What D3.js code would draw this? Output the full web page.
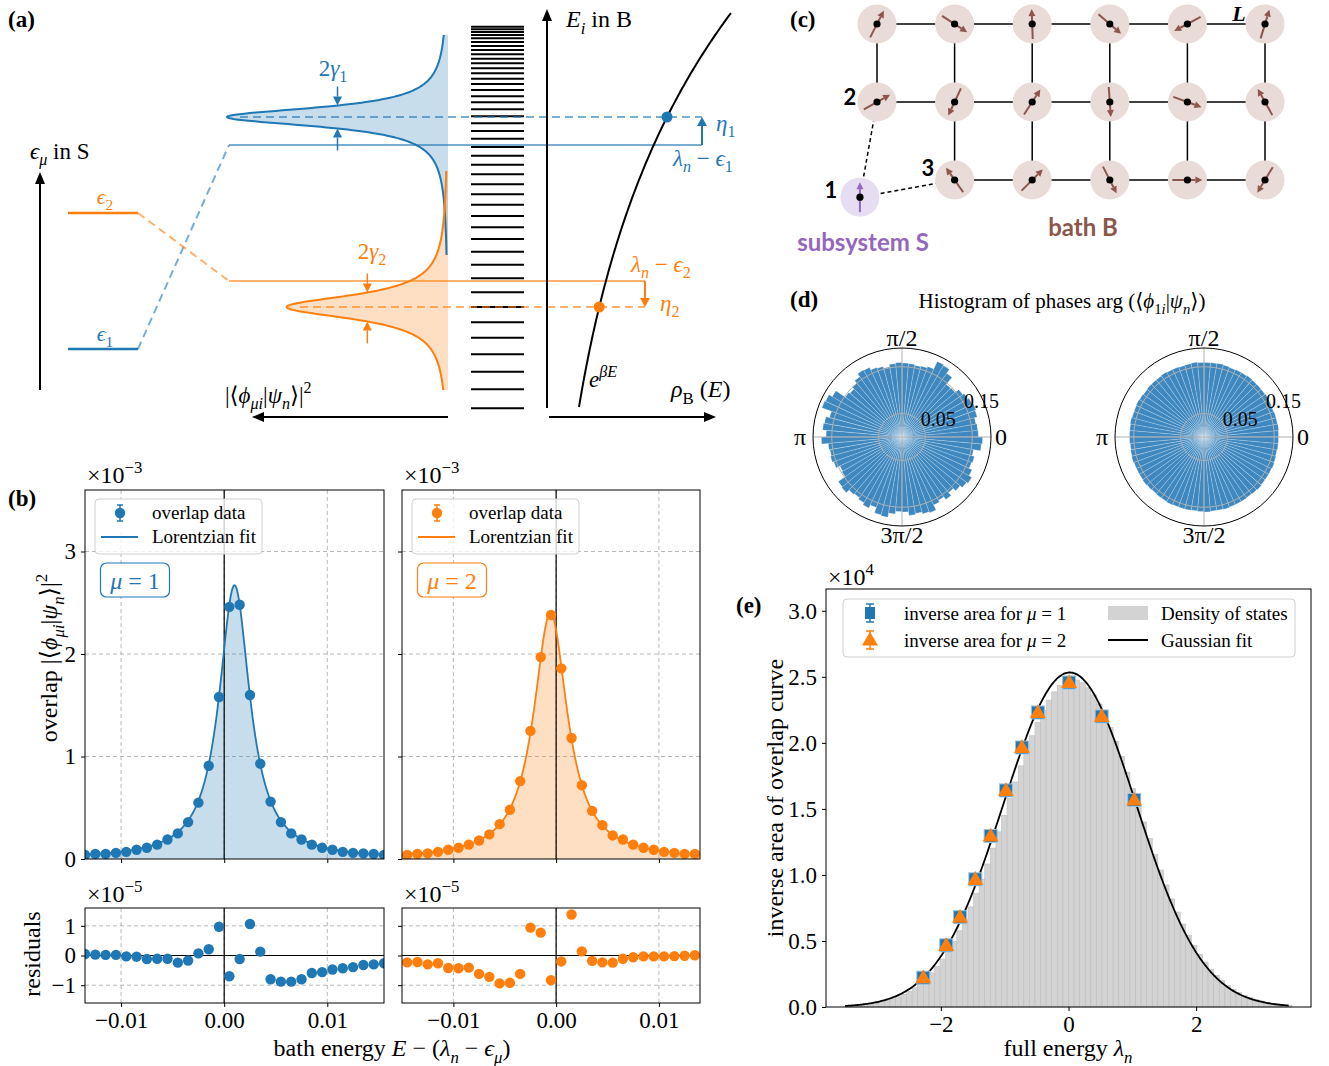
<!DOCTYPE html>
<html>
<head>
<meta charset="utf-8">
<script src="https://cdn.jsdelivr.net/npm/d3@7"></script>
<style>body{margin:0;background:#fff}</style>
</head>
<body>
<svg id="fig" width="1329" height="1066"></svg>
<script>
// ---------- data ----------
// (b) overlap data, mu = 1 and mu = 2 (units of 1e-3)
const energyMu1 = [-0.0135,-0.0125,-0.0115,-0.0105,-0.0095,-0.0085,-0.0075,-0.0065,-0.0055,-0.0045,-0.0035,-0.0025,-0.0015,-0.0005,0.0005,0.0015,0.0025,0.0035,0.0045,0.0055,0.0065,0.0075,0.0085,0.0095,0.0105,0.0115,0.0125,0.0135,0.0145,0.0155];
const overlapMu1 = [0.04,0.05,0.05,0.06,0.07,0.09,0.11,0.14,0.19,0.25,0.36,0.55,0.91,1.58,2.46,2.48,1.60,0.93,0.56,0.36,0.25,0.19,0.14,0.11,0.09,0.07,0.06,0.055,0.05,0.04];
const residMu1 = [0.05,0.03,0.02,0.02,-0.03,-0.04,-0.12,-0.11,-0.11,-0.24,-0.17,0.07,0.21,0.97,-0.70,-0.12,1.06,0.13,-0.80,-0.88,-0.88,-0.80,-0.59,-0.56,-0.47,-0.43,-0.39,-0.32,-0.30,-0.26];
const energyMu2 = [-0.0145,-0.0135,-0.0125,-0.0115,-0.0105,-0.0095,-0.0085,-0.0075,-0.0065,-0.0055,-0.0045,-0.0035,-0.0025,-0.0015,-0.0005,0.0005,0.0015,0.0025,0.0035,0.0045,0.0055,0.0065,0.0075,0.0085,0.0095,0.0105,0.0115,0.0125,0.0135];
const overlapMu2 = [0.04,0.05,0.055,0.07,0.09,0.11,0.14,0.18,0.24,0.34,0.48,0.76,1.25,1.97,2.38,1.86,1.18,0.72,0.47,0.33,0.23,0.19,0.14,0.11,0.09,0.07,0.06,0.05,0.05];
const residMu2 = [-0.23,-0.22,-0.30,-0.26,-0.42,-0.43,-0.41,-0.62,-0.72,-0.94,-0.92,-0.62,0.94,0.77,-0.83,-0.20,1.38,0.14,-0.18,-0.23,-0.24,-0.11,-0.06,-0.03,-0.03,-0.03,-0.02,-0.01,0.01];
// Lorentzian fit parameters: [amplitude, centre, half width]
const fitMu1 = [2.67, 0.0010, 0.00182];
const fitMu2 = [2.40, -0.00055, 0.0020];
const bathTicks = [-0.01, 0, 0.01];

// (e) inverse area vs full energy (units of 1e4)
const fullEnergy = [-2.275,-1.916,-1.70,-1.46,-1.22,-0.98,-0.73,-0.48,0.01,0.52,1.03];
const invAreaMu1 = [0.222,0.467,0.68,0.967,1.295,1.64,1.965,2.23,2.457,2.20,1.568];
const invAreaMu2 = [0.222,0.467,0.68,0.967,1.295,1.64,1.965,2.23,2.457,2.20,1.568];
const dosRange = [-3.5, 3.5];
const dosHeights = [0.008,0.011,0.014,0.018,0.023,0.030,0.039,0.049,0.062,0.077,
  0.096,0.119,0.146,0.177,0.214,0.258,0.307,0.363,0.427,0.498,
  0.577,0.663,0.758,0.859,0.968,1.083,1.203,1.326,1.452,1.578,
  1.704,1.826,1.944,2.054,2.155,2.245,2.323,2.386,2.434,2.465,
  2.479,2.476,2.455,2.417,2.363,2.294,2.211,2.116,2.011,1.897,
  1.778,1.654,1.528,1.401,1.276,1.154,1.037,0.924,0.818,0.719,
  0.628,0.544,0.468,0.400,0.340,0.286,0.240,0.199,0.164,0.134,
  0.109,0.088,0.071,0.056,0.045,0.035,0.027,0.021,0.016,0.012];
const gaussFit = [2.533, 0.02, 1.04];   // amplitude, mean, sigma
const gaussSpan = [-3.5, 3.45];

// (d) phase histograms (density per 5 degree bin, counter-clockwise from 0)
const phaseLeft = [0.163,0.162,0.160,0.166,0.168,0.165,0.162,0.158,0.148,0.147,0.166,0.176,
  0.178,0.160,0.157,0.155,0.157,0.158,0.159,0.157,0.152,0.156,0.158,0.164,
  0.165,0.157,0.150,0.145,0.148,0.172,0.180,0.182,0.160,0.168,0.170,0.162,
  0.172,0.158,0.156,0.158,0.155,0.146,0.148,0.166,0.168,0.160,0.158,0.162,
  0.167,0.160,0.172,0.174,0.165,0.159,0.160,0.168,0.166,0.170,0.172,0.160,
  0.156,0.163,0.155,0.162,0.168,0.172,0.165,0.158,0.160,0.155,0.170,0.172];
const phaseRight = [0.159,0.160,0.159,0.159,0.158,0.159,0.160,0.159,0.159,0.159,0.160,0.159,
  0.159,0.158,0.159,0.160,0.159,0.159,0.159,0.160,0.159,0.158,0.159,0.159,
  0.160,0.159,0.159,0.159,0.158,0.159,0.160,0.159,0.159,0.160,0.159,0.159,
  0.159,0.158,0.159,0.160,0.159,0.159,0.159,0.160,0.159,0.158,0.159,0.159,
  0.160,0.159,0.159,0.159,0.158,0.159,0.160,0.159,0.159,0.160,0.159,0.159,
  0.159,0.158,0.159,0.160,0.159,0.159,0.159,0.160,0.159,0.158,0.159,0.159];
const phaseTicks = [0.05, 0.15];

// (a) schematic energies
const sysLevels = [61, 197];        // eps_1, eps_2
const shiftedLevels = [265, 129];   // lambda_n - eps_mu
const peakLevels = [293, 103];      // lambda_n - eps_mu + eta_mu
const lorentzPeak = [1.0, 0.73];
const lorentzWidth = [11.5, 14.5];
const lorentzSpan = [[155, 375], [20, 239]];
const bathLevels = [1.7,20.7,38.3,55.7,72.3,87.7,103,117.7,131.7,145.3,158.3,171,182.7,194,205.3,215.7,225.7,235.7,245.3,254.3,263,271.3,279,286.7,293.7,300.7,307.7,313.7,320,326,331.3,336.7,341.7,346.7,351.3,355.7,360,364,368,371.7,375,378,380.7,383.3];
const rhoParams = [-11.8, 43.3, 0.0038]; // offset, prefactor, beta

// (c) lattice spins, angle in degrees (null = no site)
const spinAngles = [
  [63, -33, 92, -41, 208, 73],
  [29, 245, 57, -86, -20, 119],
  [null, 125, 45, -63, 0, 239]
];
const subSpin = 90;

// ---------- helpers ----------
const BLUE = "#1f77b4", ORANGE = "#ff7f0e", BROWN = "#8c564b", PURPLE = "#9467bd";
const SERIF = "'Liberation Serif','DejaVu Serif',serif";
const SANS = "Lato,'DejaVu Sans',sans-serif";
const TICK = 23;
const svg = d3.select("#fig");

function rich(g, x, y, segs, o) {
  const size = o.size || 20;
  const t = g.append("text").attr("x", x).attr("y", y)
    .attr("font-family", o.family || SERIF).attr("font-size", size)
    .attr("fill", o.color || "#000").attr("text-anchor", o.anchor || "start");
  if (o.weight) t.attr("font-weight", o.weight);
  if (o.rotate) t.attr("transform", `rotate(${o.rotate},${x},${y})`);
  let cur = 0;
  segs.forEach(s => {
    const txt = typeof s === "string" ? s : s[0];
    const f = typeof s === "string" ? "" : (s[1] || "");
    let off = 0, fs = size;
    if (f.includes("_")) { off = size * 0.28; fs = size * 0.7; }
    if (f.includes("^")) { off = -size * 0.42; fs = size * 0.7; }
    const ts = t.append("tspan").text(txt).attr("dy", off - cur);
    cur = off;
    if (fs !== size) ts.attr("font-size", fs);
    if (f.includes("i")) ts.attr("font-style", "italic");
  });
  return t;
}

function arrow(g, x1, y1, x2, y2, color, w, hl, hw, op) {
  op = op === undefined ? 1 : op;
  const a = Math.atan2(y2 - y1, x2 - x1);
  const bx = x2 - hl * Math.cos(a), by = y2 - hl * Math.sin(a);
  g.append("line").attr("x1", x1).attr("y1", y1).attr("x2", bx).attr("y2", by)
    .attr("stroke", color).attr("stroke-width", w).attr("stroke-opacity", op);
  const px = -Math.sin(a) * hw, py = Math.cos(a) * hw;
  g.append("path").attr("d", `M${x2},${y2}L${bx + px},${by + py}L${bx - px},${by - py}Z`)
    .attr("fill", color).attr("fill-opacity", op);
}

function styleAxis(a, size) {
  a.select(".domain").remove();
  a.selectAll("line").attr("stroke", "#000");
  a.selectAll("text").attr("font-family", SERIF).attr("font-size", size || TICK).attr("fill", "#000");
}

function panelLabel(x, y, s) {
  svg.append("text").attr("x", x).attr("y", y).attr("font-family", SERIF)
    .attr("font-weight", "bold").attr("font-size", 23).text(s);
}

// ---------- (a) schematic ----------
const aE = d3.scaleLinear().domain([0, 400]).range([410, 10]);
const ovX = d3.scaleLinear().domain([0, 1]).range([448, 227]);
const rhoX = d3.scaleLinear().domain([0, 200]).range([547, 747]);
const rho = E => rhoParams[0] + rhoParams[1] * Math.exp(rhoParams[2] * E);
const ga = svg.append("g");
const cols = [BLUE, ORANGE];

[0, 1].forEach(k => {
  const Es = d3.range(0, 401).map(i => lorentzSpan[k][0] + (lorentzSpan[k][1] - lorentzSpan[k][0]) * i / 400);
  const lx = E => ovX(lorentzPeak[k] / (1 + ((E - peakLevels[k]) / lorentzWidth[k]) ** 2));
  ga.append("path").datum(Es)
    .attr("d", d3.area().y(E => aE(E)).x0(ovX(0)).x1(lx))
    .attr("fill", cols[k]).attr("fill-opacity", 0.25);
});
[0, 1].forEach(k => {
  const Es = d3.range(0, 401).map(i => lorentzSpan[k][0] + (lorentzSpan[k][1] - lorentzSpan[k][0]) * i / 400);
  const lx = E => ovX(lorentzPeak[k] / (1 + ((E - peakLevels[k]) / lorentzWidth[k]) ** 2));
  ga.append("path").datum(Es).attr("d", d3.line().y(E => aE(E)).x(lx))
    .attr("fill", "none").attr("stroke", cols[k]).attr("stroke-width", 2);
});

// bath energy levels
ga.selectAll("line.lev").data(bathLevels).join("line")
  .attr("x1", 471).attr("x2", 524).attr("y1", d => aE(d)).attr("y2", d => aE(d))
  .attr("stroke", "#000").attr("stroke-width", 2);

// system levels, dashed connectors and shifted lines
const rightEnd = [702, 645];
const peakStart = [240, 300];
[0, 1].forEach(k => {
  const c = cols[k];
  ga.append("line").attr("x1", 68).attr("x2", 138).attr("y1", aE(sysLevels[k])).attr("y2", aE(sysLevels[k]))
    .attr("stroke", c).attr("stroke-width", 2.5);
  ga.append("line").attr("x1", 138).attr("x2", 229).attr("y1", aE(sysLevels[k])).attr("y2", aE(shiftedLevels[k]))
    .attr("stroke", c).attr("stroke-opacity", 0.6).attr("stroke-width", 2).attr("stroke-dasharray", "8,5");
  ga.append("line").attr("x1", 229).attr("x2", rightEnd[k]).attr("y1", aE(shiftedLevels[k])).attr("y2", aE(shiftedLevels[k]))
    .attr("stroke", c).attr("stroke-opacity", 0.6).attr("stroke-width", 2);
  ga.append("line").attr("x1", peakStart[k]).attr("x2", rightEnd[k]).attr("y1", aE(peakLevels[k])).attr("y2", aE(peakLevels[k]))
    .attr("stroke", c).attr("stroke-opacity", 0.6).attr("stroke-width", 2).attr("stroke-dasharray", "8,5");
  arrow(ga, rightEnd[k], aE(shiftedLevels[k]), rightEnd[k], aE(peakLevels[k]), c, 2, 9, 5);
  // width arrows
  const hx = ovX(lorentzPeak[k] / 2);
  const up = peakLevels[k] + lorentzWidth[k], dn = peakLevels[k] - lorentzWidth[k];
  arrow(ga, hx, aE(up + 19), hx, aE(up), c, 1.5, 9, 4.5);
  arrow(ga, hx, aE(dn - 22), hx, aE(dn), c, 1.5, 9, 4.5);
});

// density of states curve
const rhoEs = d3.range(0, 201).map(i => 3 + 394 * i / 200);
ga.append("path").datum(rhoEs).attr("d", d3.line().y(E => aE(E)).x(E => rhoX(rho(E))))
  .attr("fill", "none").attr("stroke", "#000").attr("stroke-width", 2);
ga.selectAll("circle.pk").data(peakLevels).join("circle")
  .attr("cx", E => rhoX(rho(E))).attr("cy", E => aE(E)).attr("r", 5.5)
  .attr("fill", (d, i) => cols[i]);

// axes arrows
arrow(ga, 40, 390, 40, 172, "#000", 2, 12, 5);
arrow(ga, 547, 408, 547, 9, "#000", 2, 12, 5);
arrow(ga, 549, 417, 716, 417, "#000", 2, 12, 5);
arrow(ga, 448, 417, 252, 417, "#000", 2, 12, 5);

// labels (a)
rich(ga, 30, 159, [["ϵ", "i"], ["μ", "_i"], " in S"], { size: 23 });
rich(ga, 105, 204, [["ϵ", "i"], ["2", "_"]], { size: 22, color: ORANGE, anchor: "middle" });
rich(ga, 105, 341, [["ϵ", "i"], ["1", "_"]], { size: 22, color: BLUE, anchor: "middle" });
rich(ga, 333, 76, ["2", ["γ", "i"], ["1", "_"]], { size: 23, color: BLUE, anchor: "middle" });
rich(ga, 372, 259, ["2", ["γ", "i"], ["2", "_"]], { size: 23, color: ORANGE, anchor: "middle" });
rich(ga, 225, 403, ["|⟨", ["ϕ", "i"], ["μi", "_i"], "|", ["ψ", "i"], ["n", "_i"], "⟩|", ["2", "^"]], { size: 23 });
rich(ga, 566, 27, [["E", "i"], ["i", "_i"], " in B"], { size: 24 });
rich(ga, 716, 131, [["η", "i"], ["1", "_"]], { size: 23, color: BLUE });
rich(ga, 673, 166, [["λ", "i"], ["n", "_i"], " − ", ["ϵ", "i"], ["1", "_"]], { size: 23, color: BLUE });
rich(ga, 631, 272, [["λ", "i"], ["n", "_i"], " − ", ["ϵ", "i"], ["2", "_"]], { size: 23, color: ORANGE });
rich(ga, 660, 311, [["η", "i"], ["2", "_"]], { size: 23, color: ORANGE });
rich(ga, 589, 387, [["e", "i"], ["βE", "^i"]], { size: 23 });
rich(ga, 671, 397, [["ρ", "i"], ["B", "_"], " (", ["E", "i"], ")"], { size: 24 });
panelLabel(8, 27, "(a)");

// ---------- (b) overlap panels ----------
const yOv = d3.scaleLinear().domain([0, 3.6]).range([859, 490]);
const yRes = d3.scaleLinear().domain([-1.6, 1.6]).range([1003, 908]);
const fmt2 = d3.format(".2f");

function overlapPanel(xs, ys, res, fit, color, dom, rng, mu, showY, tag) {
  const x = d3.scaleLinear().domain(dom).range(rng);
  const g = svg.append("g");
  const grid = (sel) => sel.attr("stroke", "#b0b0b0").attr("stroke-width", 0.9).attr("stroke-dasharray", "4,3");

  // main axes
  g.append("clipPath").attr("id", "clipM" + tag).append("rect")
    .attr("x", rng[0]).attr("y", 490).attr("width", rng[1] - rng[0]).attr("height", 369);
  bathTicks.forEach(t => grid(g.append("line").attr("x1", x(t)).attr("x2", x(t)).attr("y1", 490).attr("y2", 859)));
  [1, 2, 3].forEach(t => grid(g.append("line").attr("x1", rng[0]).attr("x2", rng[1]).attr("y1", yOv(t)).attr("y2", yOv(t))));
  const lor = v => fit[0] / (1 + ((v - fit[1]) / fit[2]) ** 2);
  const fx = d3.range(0, 601).map(i => dom[0] + (dom[1] - dom[0]) * i / 600);
  const pm = g.append("g").attr("clip-path", `url(#clipM${tag})`);
  pm.append("path").datum(fx).attr("d", d3.area().x(v => x(v)).y0(yOv(0)).y1(v => yOv(lor(v))))
    .attr("fill", color).attr("fill-opacity", 0.25);
  pm.append("line").attr("x1", x(0)).attr("x2", x(0)).attr("y1", 490).attr("y2", 859)
    .attr("stroke", "#000").attr("stroke-width", 1.2);
  pm.append("path").datum(fx).attr("d", d3.line().x(v => x(v)).y(v => yOv(lor(v))))
    .attr("fill", "none").attr("stroke", color).attr("stroke-width", 1.8);
  pm.selectAll("circle").data(xs).join("circle")
    .attr("cx", d => x(d)).attr("cy", (d, i) => yOv(ys[i])).attr("r", 5.2).attr("fill", color);
  g.append("rect").attr("x", rng[0]).attr("y", 490).attr("width", rng[1] - rng[0]).attr("height", 369)
    .attr("fill", "none").attr("stroke", "#000").attr("stroke-width", 1);
  const ax = g.append("g").attr("transform", `translate(${rng[0]},0)`)
    .call(d3.axisLeft(yOv).tickValues([0, 1, 2, 3]).tickSize(4).tickPadding(5).tickFormat(showY ? d3.format("d") : ""));
  styleAxis(ax);
  const bx = g.append("g").attr("transform", "translate(0,859)")
    .call(d3.axisBottom(x).tickValues(bathTicks).tickSize(4).tickFormat(""));
  styleAxis(bx);
  rich(g, rng[0] + 2, 483, ["×10", ["−3", "^"]], { size: 24 });

  // legend
  const lx = rng[0] + 10;
  g.append("rect").attr("x", lx).attr("y", 499).attr("width", 167).attr("height", 55).attr("rx", 4)
    .attr("fill", "#fff").attr("fill-opacity", 0.8).attr("stroke", "#d0d0d0");
  g.append("line").attr("x1", lx + 25).attr("x2", lx + 25).attr("y1", 505).attr("y2", 521).attr("stroke", color).attr("stroke-width", 1.5);
  g.append("line").attr("x1", lx + 22).attr("x2", lx + 28).attr("y1", 505).attr("y2", 505).attr("stroke", color).attr("stroke-width", 1.5);
  g.append("line").attr("x1", lx + 22).attr("x2", lx + 28).attr("y1", 521).attr("y2", 521).attr("stroke", color).attr("stroke-width", 1.5);
  g.append("circle").attr("cx", lx + 25).attr("cy", 513).attr("r", 5.2).attr("fill", color);
  g.append("line").attr("x1", lx + 6).attr("x2", lx + 43).attr("y1", 537).attr("y2", 537).attr("stroke", color).attr("stroke-width", 1.8);
  g.append("text").attr("x", lx + 57).attr("y", 519).attr("font-family", SERIF).attr("font-size", 19).text("overlap data");
  g.append("text").attr("x", lx + 57).attr("y", 543).attr("font-family", SERIF).attr("font-size", 19).text("Lorentzian fit");

  // mu box
  g.append("rect").attr("x", rng[0] + 15.5).attr("y", 563).attr("width", 69).attr("height", 34).attr("rx", 6)
    .attr("fill", "#fff").attr("stroke", color).attr("stroke-width", 1.2);
  rich(g, rng[0] + 50, 589, [["μ", "i"], " = " + mu], { size: 24, color: color, anchor: "middle" });

  // residuals
  g.append("clipPath").attr("id", "clipR" + tag).append("rect")
    .attr("x", rng[0]).attr("y", 908).attr("width", rng[1] - rng[0]).attr("height", 95);
  bathTicks.forEach(t => grid(g.append("line").attr("x1", x(t)).attr("x2", x(t)).attr("y1", 908).attr("y2", 1003)));
  [-1, 1].forEach(t => grid(g.append("line").attr("x1", rng[0]).attr("x2", rng[1]).attr("y1", yRes(t)).attr("y2", yRes(t))));
  const pr = g.append("g").attr("clip-path", `url(#clipR${tag})`);
  pr.append("line").attr("x1", x(0)).attr("x2", x(0)).attr("y1", 908).attr("y2", 1003).attr("stroke", "#000").attr("stroke-width", 1.2);
  pr.append("line").attr("x1", rng[0]).attr("x2", rng[1]).attr("y1", yRes(0)).attr("y2", yRes(0)).attr("stroke", "#000").attr("stroke-width", 1.2);
  pr.selectAll("circle").data(xs).join("circle")
    .attr("cx", d => x(d)).attr("cy", (d, i) => yRes(res[i])).attr("r", 5.2).attr("fill", color);
  g.append("rect").attr("x", rng[0]).attr("y", 908).attr("width", rng[1] - rng[0]).attr("height", 95)
    .attr("fill", "none").attr("stroke", "#000").attr("stroke-width", 1);
  const ry = g.append("g").attr("transform", `translate(${rng[0]},0)`)
    .call(d3.axisLeft(yRes).tickValues([-1, 0, 1]).tickSize(4).tickPadding(5).tickFormat(showY ? d3.format("d") : ""));
  styleAxis(ry);
  const rx = g.append("g").attr("transform", "translate(0,1003)")
    .call(d3.axisBottom(x).tickValues(bathTicks).tickSize(4).tickPadding(5).tickFormat(fmt2));
  styleAxis(rx);
  rich(g, rng[0] + 2, 902, ["×10", ["−5", "^"]], { size: 24 });
}

overlapPanel(energyMu1, overlapMu1, residMu1, fitMu1, BLUE, [-0.0135, 0.0155], [85, 384], 1, true, "1");
overlapPanel(energyMu2, overlapMu2, residMu2, fitMu2, ORANGE, [-0.015, 0.014], [402, 700], 2, false, "2");
rich(svg, 57, 658, ["overlap |⟨", ["ϕ", "i"], ["μi", "_i"], "|", ["ψ", "i"], ["n", "_i"], "⟩|", ["2", "^"]], { size: 24, anchor: "middle", rotate: -90 });
rich(svg, 40, 954, ["residuals"], { size: 24, anchor: "middle", rotate: -90 });
rich(svg, 392, 1056, ["bath energy ", ["E", "i"], " − (", ["λ", "i"], ["n", "_i"], " − ", ["ϵ", "i"], ["μ", "_i"], ")"], { size: 24, anchor: "middle" });
panelLabel(8, 506, "(b)");

// ---------- (c) lattice ----------
const cX = d3.scaleLinear().domain([0, 5]).range([877, 1265]);
const cY = d3.scaleLinear().domain([0, 2]).range([24, 180]);
const subPos = [-0.22, 2.22];
const gc = svg.append("g");
const nodes = [];
spinAngles.forEach((row, j) => row.forEach((a, i) => { if (a !== null) nodes.push({ i, j, a }); }));
const has = (i, j) => nodes.some(n => n.i === i && n.j === j);
nodes.forEach(n => {
  if (has(n.i + 1, n.j)) gc.append("line").attr("x1", cX(n.i)).attr("x2", cX(n.i + 1)).attr("y1", cY(n.j)).attr("y2", cY(n.j)).attr("stroke", "#000").attr("stroke-width", 1.5);
  if (has(n.i, n.j + 1)) gc.append("line").attr("x1", cX(n.i)).attr("x2", cX(n.i)).attr("y1", cY(n.j)).attr("y2", cY(n.j + 1)).attr("stroke", "#000").attr("stroke-width", 1.5);
});
[[0, 1], [1, 2]].forEach(([i, j]) => {
  gc.append("line").attr("x1", cX(subPos[0])).attr("y1", cY(subPos[1])).attr("x2", cX(i)).attr("y2", cY(j))
    .attr("stroke", "#000").attr("stroke-width", 1.5).attr("stroke-dasharray", "4,3");
});
function site(px, py, ang, fill, col) {
  gc.append("circle").attr("cx", px).attr("cy", py).attr("r", 19.5).attr("fill", fill);
  const r = ang * Math.PI / 180, dx = Math.cos(r) * 15, dy = -Math.sin(r) * 15;
  arrow(gc, px - dx, py - dy, px + dx, py + dy, col, 2, 7, 3.5);
  gc.append("circle").attr("cx", px).attr("cy", py).attr("r", 3.6).attr("fill", "#000");
}
nodes.forEach(n => site(cX(n.i), cY(n.j), n.a, "#e8dbd8", BROWN));
site(cX(subPos[0]), cY(subPos[1]), subSpin, "#e6ddf2", PURPLE);
const bold = (x, y, s, col, size) => gc.append("text").attr("x", x).attr("y", y).attr("text-anchor", "middle")
  .attr("font-family", SANS).attr("font-weight", "bold").attr("font-size", size || 22).attr("fill", col || "#000").text(s);
bold(831, 198, "1"); bold(850, 105, "2"); bold(928, 176, "3");
gc.append("text").attr("x", 1239).attr("y", 21).attr("text-anchor", "middle").attr("font-family", SERIF)
  .attr("font-weight", "bold").attr("font-style", "italic").attr("font-size", 22).text("L");
bold(863, 251, "subsystem S", PURPLE, 24);
bold(1083, 236, "bath B", BROWN, 24);
panelLabel(790, 27, "(c)");

// ---------- (d) polar histograms ----------
function polar(cx, cy, vals) {
  const r = d3.scaleLinear().domain([0, 0.19]).range([0, 89]);
  const g = svg.append("g").attr("transform", `translate(${cx},${cy})`);
  const w = 2 * Math.PI / vals.length;
  const arc = d3.arc().innerRadius(0);
  g.selectAll("path").data(vals).join("path")
    .attr("d", (v, i) => arc({ outerRadius: r(v), startAngle: Math.PI / 2 - (i + 1) * w, endAngle: Math.PI / 2 - i * w }))
    .attr("fill", "#3f88bf").attr("stroke", "rgba(255,255,255,0.35)").attr("stroke-width", 0.6);
  phaseTicks.forEach(t => g.append("circle").attr("r", r(t)).attr("fill", "none").attr("stroke", "#b0b0b0").attr("stroke-width", 1));
  [0, 90, 180, 270].forEach(a => {
    const ar = a * Math.PI / 180;
    g.append("line").attr("x1", 0).attr("y1", 0).attr("x2", 89 * Math.cos(ar)).attr("y2", -89 * Math.sin(ar))
      .attr("stroke", "#b0b0b0").attr("stroke-width", 1);
  });
  g.append("circle").attr("r", 89).attr("fill", "none").attr("stroke", "#000").attr("stroke-width", 1);
  const lab = (x, y, segs) => rich(g, x, y, segs, { size: 24, anchor: "middle" });
  lab(0, -91, ["π/2"]);
  lab(0, 106, ["3π/2"]);
  lab(-102, 8, ["π"]);
  lab(99, 8, ["0"]);
  const a22 = 22.5 * Math.PI / 180;
  phaseTicks.forEach(t => {
    g.append("text").attr("x", r(t) * Math.cos(a22) - 3).attr("y", -r(t) * Math.sin(a22) - 2)
      .attr("font-family", SERIF).attr("font-size", 20).text(d3.format(".2f")(t));
  });
}
polar(902, 437, phaseLeft);
polar(1204, 437, phaseRight);
rich(svg, 1062, 308, ["Histogram of phases arg (⟨", ["ϕ", "i"], ["1", "_"], ["i", "_i"], "|", ["ψ", "i"], ["n", "_i"], "⟩)"], { size: 21, anchor: "middle" });
panelLabel(790, 307, "(d)");

// ---------- (e) inverse area ----------
const ex = d3.scaleLinear().domain([-3.8, 3.8]).range([826, 1311]);
const ey = d3.scaleLinear().domain([0, 3.165]).range([1007, 589]);
const ge = svg.append("g");
const bw = (dosRange[1] - dosRange[0]) / dosHeights.length;
ge.selectAll("rect.dos").data(dosHeights).join("rect")
  .attr("x", (d, i) => ex(dosRange[0] + i * bw)).attr("width", ex(bw) - ex(0))
  .attr("y", d => ey(d)).attr("height", d => ey(0) - ey(d))
  .attr("fill", "#d3d3d3").attr("stroke", "#bdbdbd").attr("stroke-width", 0.6);
const gx = d3.range(0, 401).map(i => gaussSpan[0] + (gaussSpan[1] - gaussSpan[0]) * i / 400);
const gauss = v => gaussFit[0] * Math.exp(-((v - gaussFit[1]) ** 2) / (2 * gaussFit[2] ** 2));
ge.append("path").datum(gx).attr("d", d3.line().x(v => ex(v)).y(v => ey(gauss(v))))
  .attr("fill", "none").attr("stroke", "#000").attr("stroke-width", 1.8);
ge.selectAll("rect.sq").data(fullEnergy).join("rect")
  .attr("x", d => ex(d) - 6.5).attr("y", (d, i) => ey(invAreaMu1[i]) - 6.5).attr("width", 13).attr("height", 13)
  .attr("fill", BLUE).attr("stroke", "#9cc3e0").attr("stroke-width", 1);
const tri = d3.symbol().type(d3.symbolTriangle).size(110);
ge.selectAll("path.tri").data(fullEnergy).join("path")
  .attr("transform", (d, i) => `translate(${ex(d)},${ey(invAreaMu2[i]) + 1})`).attr("d", tri).attr("fill", ORANGE);
ge.append("rect").attr("x", 826).attr("y", 589).attr("width", 485).attr("height", 418)
  .attr("fill", "none").attr("stroke", "#000").attr("stroke-width", 1);
const eyAx = ge.append("g").attr("transform", "translate(826,0)")
  .call(d3.axisLeft(ey).tickValues([0, 0.5, 1, 1.5, 2, 2.5, 3]).tickFormat(d3.format(".1f")).tickSize(4).tickPadding(5));
styleAxis(eyAx);
const exAx = ge.append("g").attr("transform", "translate(0,1007)")
  .call(d3.axisBottom(ex).tickValues([-2, 0, 2]).tickFormat(d3.format("d")).tickSize(4).tickPadding(5));
styleAxis(exAx);
rich(ge, 828, 585, ["×10", ["4", "^"]], { size: 24 });
rich(ge, 783, 798, ["inverse area of overlap curve"], { size: 24, anchor: "middle", rotate: -90 });
rich(ge, 1068, 1056, ["full energy ", ["λ", "i"], ["n", "_i"]], { size: 24, anchor: "middle" });
// legend
ge.append("rect").attr("x", 843).attr("y", 599).attr("width", 452).attr("height", 58).attr("rx", 4)
  .attr("fill", "#fff").attr("fill-opacity", 0.85).attr("stroke", "#d0d0d0");
[[613, BLUE], [640, ORANGE]].forEach(([yy, c]) => {
  ge.append("line").attr("x1", 870).attr("x2", 870).attr("y1", yy - 9).attr("y2", yy + 9).attr("stroke", c).attr("stroke-width", 1.5);
  ge.append("line").attr("x1", 866).attr("x2", 874).attr("y1", yy - 9).attr("y2", yy - 9).attr("stroke", c).attr("stroke-width", 1.5);
  ge.append("line").attr("x1", 866).attr("x2", 874).attr("y1", yy + 9).attr("y2", yy + 9).attr("stroke", c).attr("stroke-width", 1.5);
});
ge.append("rect").attr("x", 865).attr("y", 607).attr("width", 10).attr("height", 12).attr("fill", BLUE);
ge.append("path").attr("transform", "translate(870,641)").attr("d", tri).attr("fill", ORANGE);
rich(ge, 904, 620, ["inverse area for ", ["μ", "i"], " = 1"], { size: 19 });
rich(ge, 904, 647, ["inverse area for ", ["μ", "i"], " = 2"], { size: 19 });
ge.append("rect").attr("x", 1108).attr("y", 606).attr("width", 40).attr("height", 14).attr("fill", "#d3d3d3");
ge.append("line").attr("x1", 1108).attr("x2", 1148).attr("y1", 640).attr("y2", 640).attr("stroke", "#000").attr("stroke-width", 1.8);
rich(ge, 1161, 620, ["Density of states"], { size: 19 });
rich(ge, 1161, 647, ["Gaussian fit"], { size: 19 });
panelLabel(736, 613, "(e)");
</script>
</body>
</html>
